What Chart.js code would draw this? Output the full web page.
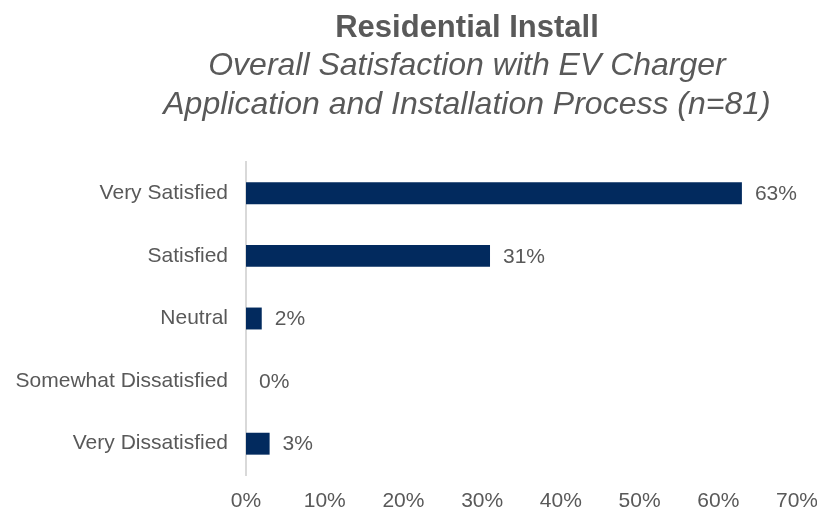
<!DOCTYPE html>
<html>
<head>
<meta charset="utf-8">
<script src="https://cdn.jsdelivr.net/npm/chart.js@4/dist/chart.umd.min.js"></script>
<style>
  html, body { margin: 0; padding: 0; background: #ffffff; }
  #wrap { width: 817px; height: 510px; position: relative; }
</style>
</head>
<body>
<div id="wrap"><canvas id="chart" width="817" height="510"></canvas></div>
<script>
// Survey responses: share of respondents per satisfaction level
const categories = ['Very Satisfied', 'Satisfied', 'Neutral', 'Somewhat Dissatisfied', 'Very Dissatisfied'];
const shares = [63, 31, 2, 0, 3];
const axisTicks = [0, 10, 20, 30, 40, 50, 60, 70];

const titleText = 'Residential Install';
const subtitleLines = ['Overall Satisfaction with EV Charger', 'Application and Installation Process (n=81)'];

const FONT = '"Liberation Sans", Arial, Helvetica, sans-serif';
const TEXT = '#595959';
const BAR = '#022A5E';

// Title block, centred above the plot
const titleBlock = {
  id: 'titleBlock',
  afterDraw(chart) {
    const ctx = chart.ctx;
    ctx.save();
    ctx.fillStyle = TEXT;
    ctx.textAlign = 'center';
    ctx.textBaseline = 'alphabetic';
    const cx = 467;
    ctx.font = 'bold 31px ' + FONT;
    ctx.fillText(titleText, cx, 37);
    ctx.font = 'italic 32px ' + FONT;
    ctx.fillText(subtitleLines[0], cx, 75);
    ctx.fillText(subtitleLines[1], cx, 114);
    ctx.restore();
  }
};

// Percentage label just past the end of each bar
const valueLabels = {
  id: 'valueLabels',
  afterDatasetsDraw(chart) {
    const ctx = chart.ctx;
    const meta = chart.getDatasetMeta(0);
    ctx.save();
    ctx.fillStyle = TEXT;
    ctx.font = '21px ' + FONT;
    ctx.textAlign = 'left';
    ctx.textBaseline = 'middle';
    meta.data.forEach((bar, i) => {
      ctx.fillText(shares[i] + '%', bar.x + 13, bar.y + 1);
    });
    ctx.restore();
  }
};

new Chart(document.getElementById('chart'), {
  type: 'bar',
  data: {
    labels: categories,
    datasets: [{
      data: shares,
      backgroundColor: BAR,
      borderWidth: 0,
      categoryPercentage: 1,
      barPercentage: 0.35
    }]
  },
  options: {
    indexAxis: 'y',
    responsive: false,
    animation: false,
    devicePixelRatio: 1,
    layout: { padding: { top: 162, right: 20, left: 0, bottom: 0 } },
    plugins: {
      legend: { display: false },
      title: { display: false },
      tooltip: { enabled: false }
    },
    scales: {
      x: {
        min: 0,
        max: 70,
        afterBuildTicks(scale) { scale.ticks = axisTicks.map(v => ({ value: v })); },
        afterFit(scale) {
          scale.height = 35;
          scale.paddingLeft = 0;
          scale.paddingRight = 0;
        },
        grid: { display: false },
        border: { display: false },
        ticks: {
          padding: 6,
          color: TEXT,
          font: { family: FONT, size: 21 },
          callback: v => v + '%'
        }
      },
      y: {
        afterFit(scale) { scale.width = 246; },
        grid: { display: false, drawTicks: false },
        border: { display: true, color: '#D9D9D9', width: 2 },
        ticks: {
          padding: 18,
          color: TEXT,
          font: { family: FONT, size: 21 }
        }
      }
    }
  },
  plugins: [titleBlock, valueLabels]
});
</script>
</body>
</html>
